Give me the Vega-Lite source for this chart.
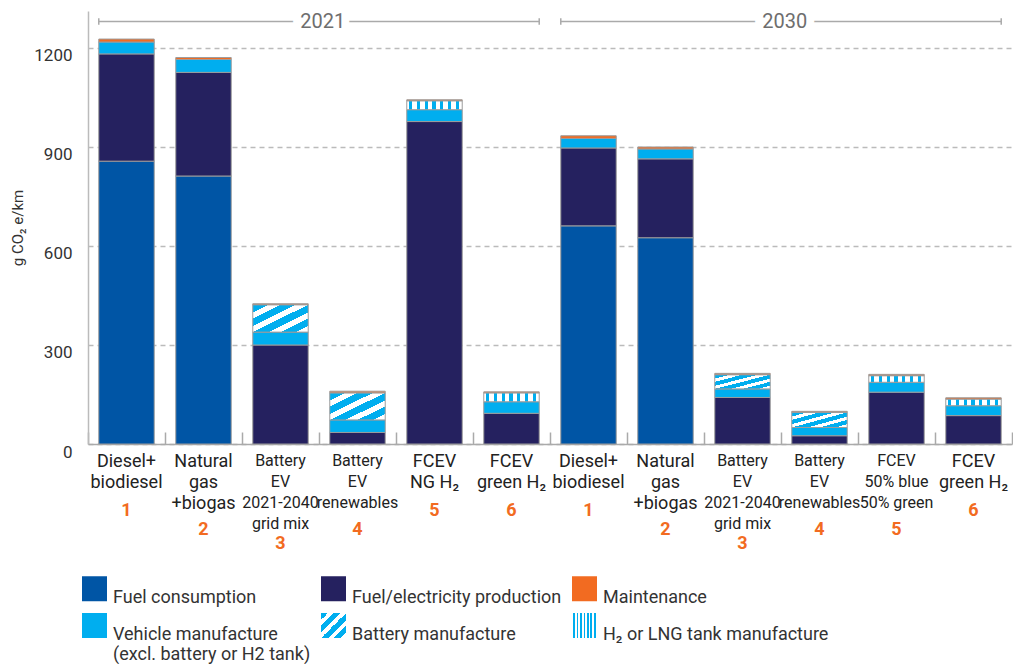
{
  "$schema": "https://vega.github.io/schema/vega-lite/v6.json",
  "width": 924,
  "height": 433,
  "padding": {"left": 10, "top": 11, "right": 0, "bottom": 0},
  "background": "white",
  "config": {
    "font": "Roboto",
    "view": {"stroke": null},
    "axisX": {
      "title": null,
      "labelAngle": 0,
      "labelAlign": "center",
      "labelBaseline": "top",
      "labelOverlap": false,
      "labelLimit": 0,
      "grid": false
    }
  },
  "datasets": {
    "bars": [
      {"bar": "21|Diesel+|biodiesel|1", "component": "Fuel consumption", "value": 857},
      {"bar": "21|Diesel+|biodiesel|1", "component": "Fuel/electricity production", "value": 325},
      {"bar": "21|Diesel+|biodiesel|1", "component": "Vehicle manufacture (excl. battery or H2 tank)", "value": 36},
      {"bar": "21|Diesel+|biodiesel|1", "component": "Maintenance", "value": 9},
      {"bar": "21|Natural|gas|+biogas|2", "component": "Fuel consumption", "value": 812},
      {"bar": "21|Natural|gas|+biogas|2", "component": "Fuel/electricity production", "value": 314},
      {"bar": "21|Natural|gas|+biogas|2", "component": "Vehicle manufacture (excl. battery or H2 tank)", "value": 39},
      {"bar": "21|Natural|gas|+biogas|2", "component": "Maintenance", "value": 6},
      {"bar": "21|Battery|EV|2021-2040|grid mix|3", "component": "Fuel/electricity production", "value": 300},
      {"bar": "21|Battery|EV|2021-2040|grid mix|3", "component": "Vehicle manufacture (excl. battery or H2 tank)", "value": 39},
      {"bar": "21|Battery|EV|2021-2040|grid mix|3", "component": "Battery manufacture", "value": 83},
      {"bar": "21|Battery|EV|2021-2040|grid mix|3", "component": "Maintenance", "value": 3},
      {"bar": "21|Battery|EV|renewables|4", "component": "Fuel/electricity production", "value": 35},
      {"bar": "21|Battery|EV|renewables|4", "component": "Vehicle manufacture (excl. battery or H2 tank)", "value": 38},
      {"bar": "21|Battery|EV|renewables|4", "component": "Battery manufacture", "value": 82},
      {"bar": "21|Battery|EV|renewables|4", "component": "Maintenance", "value": 5},
      {"bar": "21|FCEV|NG H₂|5", "component": "Fuel/electricity production", "value": 977},
      {"bar": "21|FCEV|NG H₂|5", "component": "Vehicle manufacture (excl. battery or H2 tank)", "value": 36},
      {"bar": "21|FCEV|NG H₂|5", "component": "H₂ or LNG tank manufacture", "value": 27},
      {"bar": "21|FCEV|NG H₂|5", "component": "Maintenance", "value": 3},
      {"bar": "21|FCEV|green H₂|6", "component": "Fuel/electricity production", "value": 93},
      {"bar": "21|FCEV|green H₂|6", "component": "Vehicle manufacture (excl. battery or H2 tank)", "value": 35},
      {"bar": "21|FCEV|green H₂|6", "component": "H₂ or LNG tank manufacture", "value": 27},
      {"bar": "21|FCEV|green H₂|6", "component": "Maintenance", "value": 3},
      {"bar": "30|Diesel+|biodiesel|1", "component": "Fuel consumption", "value": 661},
      {"bar": "30|Diesel+|biodiesel|1", "component": "Fuel/electricity production", "value": 236},
      {"bar": "30|Diesel+|biodiesel|1", "component": "Vehicle manufacture (excl. battery or H2 tank)", "value": 29},
      {"bar": "30|Diesel+|biodiesel|1", "component": "Maintenance", "value": 8},
      {"bar": "30|Natural|gas|+biogas|2", "component": "Fuel consumption", "value": 625},
      {"bar": "30|Natural|gas|+biogas|2", "component": "Fuel/electricity production", "value": 239},
      {"bar": "30|Natural|gas|+biogas|2", "component": "Vehicle manufacture (excl. battery or H2 tank)", "value": 30},
      {"bar": "30|Natural|gas|+biogas|2", "component": "Maintenance", "value": 6},
      {"bar": "30|Battery|EV|2021-2040|grid mix|3", "component": "Fuel/electricity production", "value": 141},
      {"bar": "30|Battery|EV|2021-2040|grid mix|3", "component": "Vehicle manufacture (excl. battery or H2 tank)", "value": 26},
      {"bar": "30|Battery|EV|2021-2040|grid mix|3", "component": "Battery manufacture", "value": 43},
      {"bar": "30|Battery|EV|2021-2040|grid mix|3", "component": "Maintenance", "value": 4},
      {"bar": "30|Battery|EV|renewables|4", "component": "Fuel/electricity production", "value": 25},
      {"bar": "30|Battery|EV|renewables|4", "component": "Vehicle manufacture (excl. battery or H2 tank)", "value": 25},
      {"bar": "30|Battery|EV|renewables|4", "component": "Battery manufacture", "value": 46},
      {"bar": "30|Battery|EV|renewables|4", "component": "Maintenance", "value": 3},
      {"bar": "30|FCEV|50% blue|50% green|5", "component": "Fuel/electricity production", "value": 157},
      {"bar": "30|FCEV|50% blue|50% green|5", "component": "Vehicle manufacture (excl. battery or H2 tank)", "value": 30},
      {"bar": "30|FCEV|50% blue|50% green|5", "component": "H₂ or LNG tank manufacture", "value": 20},
      {"bar": "30|FCEV|50% blue|50% green|5", "component": "Maintenance", "value": 4},
      {"bar": "30|FCEV|green H₂|6", "component": "Fuel/electricity production", "value": 86},
      {"bar": "30|FCEV|green H₂|6", "component": "Vehicle manufacture (excl. battery or H2 tank)", "value": 30},
      {"bar": "30|FCEV|green H₂|6", "component": "H₂ or LNG tank manufacture", "value": 20},
      {"bar": "30|FCEV|green H₂|6", "component": "Maintenance", "value": 4}
    ],
    "groups": [
      {"year": "2021", "start": "21|Diesel+|biodiesel|1", "end": "21|FCEV|green H₂|6", "mid": "21|Battery|EV|renewables|4"},
      {"year": "2030", "start": "30|Diesel+|biodiesel|1", "end": "30|FCEV|green H₂|6", "mid": "30|Battery|EV|renewables|4"}
    ]
  },
  "resolve": {"axis": {"x": "independent"}},
  "layer": [
    {
      "data": {"name": "bars"},
      "transform": [
        {"calculate": "indexof(['Fuel consumption','Fuel/electricity production','Vehicle manufacture (excl. battery or H2 tank)','Battery manufacture','H₂ or LNG tank manufacture','Maintenance'], datum.component)", "as": "stackOrder"}
      ],
      "mark": {"type": "bar", "width": {"band": 0.72}, "stroke": "#9c9c9c", "strokeWidth": 1},
      "encoding": {
        "x": {
          "field": "bar", "type": "nominal",
          "scale": {
            "domain": ["21|Diesel+|biodiesel|1", "21|Natural|gas|+biogas|2", "21|Battery|EV|2021-2040|grid mix|3", "21|Battery|EV|renewables|4", "21|FCEV|NG H₂|5", "21|FCEV|green H₂|6", "30|Diesel+|biodiesel|1", "30|Natural|gas|+biogas|2", "30|Battery|EV|2021-2040|grid mix|3", "30|Battery|EV|renewables|4", "30|FCEV|50% blue|50% green|5", "30|FCEV|green H₂|6"],
            "paddingInner": 0, "paddingOuter": 0
          },
          "axis": {
            "orient": "bottom",
            "labelExpr": "slice(split(datum.value, '|'), 1, -1)",
            "labelLineHeight": 21,
            "labelPadding": 8,
            "labelFontSize": {"condition": {"test": "indexof(datum.value, 'Battery') >= 0 || indexof(datum.value, '50%') >= 0", "value": 16}, "value": 18},
            "labelColor": "#222222",
            "ticks": false,
            "tickSize": 0,
            "domain": true,
            "domainColor": "#aaaaaa",
            "domainWidth": 1.5
          }
        },
        "y": {
          "field": "value", "type": "quantitative", "stack": "zero",
          "scale": {"domain": [0, 1312], "nice": false},
          "title": "g CO₂ e/km",
          "axis": {
            "values": [0, 300, 600, 900, 1200],
            "format": "d",
            "grid": true,
            "gridDash": [5, 4],
            "gridColor": "#bbbbbb",
            "gridWidth": 1.5,
            "ticks": false,
            "domainColor": "#bbbbbb",
            "domainWidth": 1.5,
            "labelFontSize": 17,
            "labelColor": "#333333",
            "labelPadding": 16,
            "labelBaseline": "top",
            "titleFontSize": 15,
            "titleFontWeight": "normal",
            "titleColor": "#333333",
            "titlePadding": 8
          }
        },
        "color": {
          "field": "component", "type": "nominal",
          "scale": {
            "domain": ["Fuel consumption", "Fuel/electricity production", "Maintenance", "Vehicle manufacture (excl. battery or H2 tank)", "Battery manufacture", "H₂ or LNG tank manufacture"],
            "range": [
              "#0055a5", "#25215f", "#f26b21", "#00aeef",
              {"expr": "{gradient: 'linear', x1: 0, y1: 0, x2: 1, y2: 1, stops: [{offset: 0, color: '#00aeef'}, {offset: 0.14, color: '#00aeef'}, {offset: 0.14, color: '#ffffff'}, {offset: 0.25, color: '#ffffff'}, {offset: 0.25, color: '#00aeef'}, {offset: 0.39, color: '#00aeef'}, {offset: 0.39, color: '#ffffff'}, {offset: 0.5, color: '#ffffff'}, {offset: 0.5, color: '#00aeef'}, {offset: 0.64, color: '#00aeef'}, {offset: 0.64, color: '#ffffff'}, {offset: 0.75, color: '#ffffff'}, {offset: 0.75, color: '#00aeef'}, {offset: 0.89, color: '#00aeef'}, {offset: 0.89, color: '#ffffff'}, {offset: 1, color: '#ffffff'}]}"},
              {"expr": "{gradient: 'linear', x1: 0, y1: 0, x2: 1, y2: 0, stops: [{offset: 0, color: '#ffffff'}, {offset: 0.04, color: '#ffffff'}, {offset: 0.04, color: '#00aeef'}, {offset: 0.1, color: '#00aeef'}, {offset: 0.1, color: '#ffffff'}, {offset: 0.18, color: '#ffffff'}, {offset: 0.18, color: '#00aeef'}, {offset: 0.24, color: '#00aeef'}, {offset: 0.24, color: '#ffffff'}, {offset: 0.32, color: '#ffffff'}, {offset: 0.32, color: '#00aeef'}, {offset: 0.38, color: '#00aeef'}, {offset: 0.38, color: '#ffffff'}, {offset: 0.46, color: '#ffffff'}, {offset: 0.46, color: '#00aeef'}, {offset: 0.52, color: '#00aeef'}, {offset: 0.52, color: '#ffffff'}, {offset: 0.6, color: '#ffffff'}, {offset: 0.6, color: '#00aeef'}, {offset: 0.66, color: '#00aeef'}, {offset: 0.66, color: '#ffffff'}, {offset: 0.74, color: '#ffffff'}, {offset: 0.74, color: '#00aeef'}, {offset: 0.8, color: '#00aeef'}, {offset: 0.8, color: '#ffffff'}, {offset: 0.88, color: '#ffffff'}, {offset: 0.88, color: '#00aeef'}, {offset: 0.94, color: '#00aeef'}, {offset: 0.94, color: '#ffffff'}, {offset: 1, color: '#ffffff'}]}"}
            ]
          },
          "legend": {
            "orient": "none",
            "legendX": -6,
            "legendY": 565,
            "title": null,
            "columns": 3,
            "direction": "horizontal",
            "padding": 0,
            "symbolType": "square",
            "symbolSize": 625,
            "symbolStrokeWidth": 0,
            "symbolOpacity": 1,
            "labelFontSize": 18,
            "labelColor": "#333333",
            "labelOffset": 6,
            "labelBaseline": "top",
            "labelLimit": 400,
            "labelExpr": "datum.label == 'Vehicle manufacture (excl. battery or H2 tank)' ? ['Vehicle manufacture', '(excl. battery or H2 tank)'] : datum.label",
            "columnPadding": 10,
            "rowPadding": 6,
            "gridAlign": "each"
          }
        },
        "order": {"field": "stackOrder", "type": "quantitative"}
      }
    },
    {
      "mark": {"type": "rule", "color": "#bbbbbb", "strokeWidth": 1.5},
      "encoding": {
        "x": {"datum": "30|Diesel+|biodiesel|1", "type": "nominal", "bandPosition": 0, "axis": null},
        "y": {"datum": 1312, "type": "quantitative", "title": "g CO₂ e/km"},
        "y2": {"datum": -275}
      }
    },
    {
      "data": {"name": "groups"},
      "mark": {"type": "rule", "color": "#aaaaaa", "strokeWidth": 1.5},
      "encoding": {
        "x": {
          "field": "start", "type": "nominal", "bandPosition": 0.14,
          "axis": {
            "orient": "bottom",
            "labels": false,
            "ticks": true,
            "tickBand": "extent",
            "tickSize": -12,
            "tickColor": "#aaaaaa",
            "tickWidth": 1.5,
            "domain": false
          }
        },
        "x2": {"field": "end", "bandPosition": 0.86},
        "y": {"datum": 1280, "type": "quantitative", "title": "g CO₂ e/km"}
      }
    },
    {
      "data": {"name": "groups"},
      "mark": {"type": "rule", "color": "#aaaaaa", "strokeWidth": 1.5},
      "encoding": {
        "x": {
          "field": "start", "type": "nominal", "bandPosition": 0.14,
          "axis": {
            "orient": "bottom",
            "labelExpr": "isString(datum.value) && length(split(datum.value, '|')) == 4 ? peek(split(datum.value, '|')) : ''",
            "labelPadding": 57,
            "labelFontSize": 18,
            "labelFontWeight": "bold",
            "labelColor": "#f26b21",
            "ticks": false,
            "tickSize": 0,
            "domain": false
          }
        },
        "y": {"datum": 1270, "type": "quantitative", "title": "g CO₂ e/km"},
        "y2": {"datum": 1290}
      }
    },
    {
      "data": {"name": "groups"},
      "mark": {"type": "rule", "color": "#aaaaaa", "strokeWidth": 1.5},
      "encoding": {
        "x": {
          "field": "end", "type": "nominal", "bandPosition": 0.86,
          "axis": {
            "orient": "bottom",
            "labelExpr": "isString(datum.value) && length(split(datum.value, '|')) == 5 ? peek(split(datum.value, '|')) : ''",
            "labelPadding": 76,
            "labelFontSize": 18,
            "labelFontWeight": "bold",
            "labelColor": "#f26b21",
            "ticks": false,
            "tickSize": 0,
            "domain": false
          }
        },
        "y": {"datum": 1270, "type": "quantitative", "title": "g CO₂ e/km"},
        "y2": {"datum": 1290}
      }
    },
    {
      "data": {"name": "groups"},
      "mark": {"type": "text", "fontSize": 20, "fill": "white", "stroke": "white", "strokeWidth": 16, "baseline": "middle", "align": "center"},
      "encoding": {
        "x": {
          "field": "mid", "type": "nominal", "bandPosition": 0.05,
          "axis": {
            "orient": "bottom",
            "labelExpr": "isString(datum.value) && length(split(datum.value, '|')) == 6 ? peek(split(datum.value, '|')) : ''",
            "labelPadding": 90,
            "labelFontSize": 18,
            "labelFontWeight": "bold",
            "labelColor": "#f26b21",
            "ticks": false,
            "tickSize": 0,
            "domain": false
          }
        },
        "y": {"datum": 1280, "type": "quantitative", "title": "g CO₂ e/km"},
        "text": {"field": "year"}
      }
    },
    {
      "data": {"name": "groups"},
      "mark": {"type": "text", "fontSize": 20, "color": "#6e6e6e", "baseline": "middle", "align": "center"},
      "encoding": {
        "x": {"field": "mid", "type": "nominal", "bandPosition": 0.05, "axis": null},
        "y": {"datum": 1280, "type": "quantitative", "title": "g CO₂ e/km"},
        "text": {"field": "year"}
      }
    }
  ]
}
